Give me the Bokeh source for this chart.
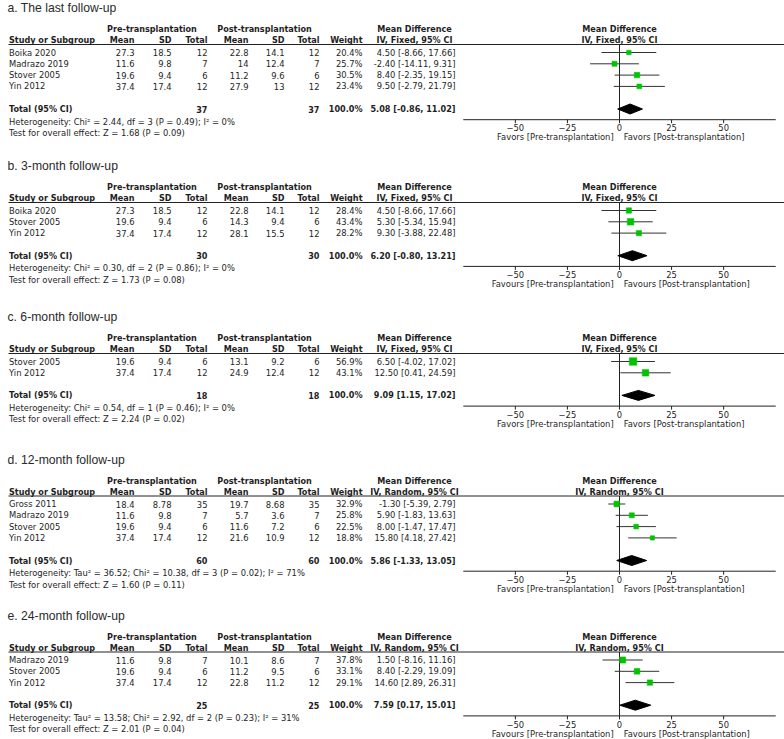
import math
from bokeh.plotting import figure
from bokeh.models import Range1d, ColumnDataSource
from bokeh.core.properties import value
from bokeh.embed import file_html
from bokeh.resources import INLINE

# ---------------- data ----------------
titles = ["a. The last follow-up", "b. 3-month follow-up", "c. 6-month follow-up",
          "d. 12-month follow-up", "e. 24-month follow-up"]
methods = ["IV, Fixed, 95% CI", "IV, Fixed, 95% CI", "IV, Fixed, 95% CI",
           "IV, Random, 95% CI", "IV, Random, 95% CI"]
favour_words = ["Favors", "Favours", "Favors", "Favors", "Favours"]

a_study = ["Boika 2020", "Madrazo 2019", "Stover 2005", "Yin 2012"]
a_pre_mean = [27.3, 11.6, 19.6, 37.4]
a_pre_sd = [18.5, 9.8, 9.4, 17.4]
a_pre_n = [12, 7, 6, 12]
a_post_mean = [22.8, 14, 11.2, 27.9]
a_post_sd = [14.1, 12.4, 9.6, 13]
a_post_n = [12, 7, 6, 12]
a_weight = [20.4, 25.7, 30.5, 23.4]
a_md = [4.50, -2.40, 8.40, 9.50]
a_lo = [-8.66, -14.11, -2.35, -2.79]
a_hi = [17.66, 9.31, 19.15, 21.79]

b_study = ["Boika 2020", "Stover 2005", "Yin 2012"]
b_pre_mean = [27.3, 19.6, 37.4]
b_pre_sd = [18.5, 9.4, 17.4]
b_pre_n = [12, 6, 12]
b_post_mean = [22.8, 14.3, 28.1]
b_post_sd = [14.1, 9.4, 15.5]
b_post_n = [12, 6, 12]
b_weight = [28.4, 43.4, 28.2]
b_md = [4.50, 5.30, 9.30]
b_lo = [-8.66, -5.34, -3.88]
b_hi = [17.66, 15.94, 22.48]

c_study = ["Stover 2005", "Yin 2012"]
c_pre_mean = [19.6, 37.4]
c_pre_sd = [9.4, 17.4]
c_pre_n = [6, 12]
c_post_mean = [13.1, 24.9]
c_post_sd = [9.2, 12.4]
c_post_n = [6, 12]
c_weight = [56.9, 43.1]
c_md = [6.50, 12.50]
c_lo = [-4.02, 0.41]
c_hi = [17.02, 24.59]

d_study = ["Gross 2011", "Madrazo 2019", "Stover 2005", "Yin 2012"]
d_pre_mean = [18.4, 11.6, 19.6, 37.4]
d_pre_sd = [8.78, 9.8, 9.4, 17.4]
d_pre_n = [35, 7, 6, 12]
d_post_mean = [19.7, 5.7, 11.6, 21.6]
d_post_sd = [8.68, 3.6, 7.2, 10.9]
d_post_n = [35, 7, 6, 12]
d_weight = [32.9, 25.8, 22.5, 18.8]
d_md = [-1.30, 5.90, 8.00, 15.80]
d_lo = [-5.39, -1.83, -1.47, 4.18]
d_hi = [2.79, 13.63, 17.47, 27.42]

e_study = ["Madrazo 2019", "Stover 2005", "Yin 2012"]
e_pre_mean = [11.6, 19.6, 37.4]
e_pre_sd = [9.8, 9.4, 17.4]
e_pre_n = [7, 6, 12]
e_post_mean = [10.1, 11.2, 22.8]
e_post_sd = [8.6, 9.5, 11.2]
e_post_n = [7, 6, 12]
e_weight = [37.8, 33.1, 29.1]
e_md = [1.50, 8.40, 14.60]
e_lo = [-8.16, -2.29, 2.89]
e_hi = [11.16, 19.09, 26.31]

total_md = [5.08, 6.20, 9.09, 5.86, 7.59]
total_lo = [-0.86, -0.80, 1.15, -1.33, 0.17]
total_hi = [11.02, 13.21, 17.02, 13.05, 15.01]

het_texts = [
    "Heterogeneity: Chi\u00b2 = 2.44, df = 3 (P = 0.49); I\u00b2 = 0%",
    "Heterogeneity: Chi\u00b2 = 0.30, df = 2 (P = 0.86); I\u00b2 = 0%",
    "Heterogeneity: Chi\u00b2 = 0.54, df = 1 (P = 0.46); I\u00b2 = 0%",
    "Heterogeneity: Tau\u00b2 = 36.52; Chi\u00b2 = 10.38, df = 3 (P = 0.02); I\u00b2 = 71%",
    "Heterogeneity: Tau\u00b2 = 13.58; Chi\u00b2 = 2.92, df = 2 (P = 0.23); I\u00b2 = 31%",
]
test_texts = [
    "Test for overall effect: Z = 1.68 (P = 0.09)",
    "Test for overall effect: Z = 1.73 (P = 0.08)",
    "Test for overall effect: Z = 2.24 (P = 0.02)",
    "Test for overall effect: Z = 1.60 (P = 0.11)",
    "Test for overall effect: Z = 2.01 (P = 0.04)",
]

tick_values = [-50, -25, 0, 25, 50]
tick_labels = ["\u221250", "\u221225", "0", "25", "50"]

panels = [
    (a_study, a_pre_mean, a_pre_sd, a_pre_n, a_post_mean, a_post_sd, a_post_n, a_weight, a_md, a_lo, a_hi),
    (b_study, b_pre_mean, b_pre_sd, b_pre_n, b_post_mean, b_post_sd, b_post_n, b_weight, b_md, b_lo, b_hi),
    (c_study, c_pre_mean, c_pre_sd, c_pre_n, c_post_mean, c_post_sd, c_post_n, c_weight, c_md, c_lo, c_hi),
    (d_study, d_pre_mean, d_pre_sd, d_pre_n, d_post_mean, d_post_sd, d_post_n, d_weight, d_md, d_lo, d_hi),
    (e_study, e_pre_mean, e_pre_sd, e_pre_n, e_post_mean, e_post_sd, e_post_n, e_weight, e_md, e_lo, e_hi),
]

# ---------------- layout / style ----------------
W, H = 784, 739
ZERO_PX = 619.0          # picture x of MD = 0
PPU = 2.083              # pixels per MD unit
AXIS_LIM = 75
panel_top = [7.5, 165.5, 316.5, 459.0, 615.0]
ROW = 11.3

FONT = "DejaVu Sans"
TFONT = "Liberation Sans"
FS = "8.4px"
BFS = "8.1px"
TFS = "12.2px"
TXT = "#1e1e1e"
LINE = "#222222"
GREEN = "#00c400"


def px(xpic):
    return (xpic - ZERO_PX) / PPU


col_name = px(8.5)
col_pre_mean = px(134)
col_pre_sd = px(171)
col_pre_n = px(207)
col_post_mean = px(248)
col_post_sd = px(284)
col_post_n = px(319)
col_weight = px(362)
col_md = px(455)
col_pre_hdr = px(151.5)
col_post_hdr = px(264)
col_md_hdr = px(414)

p = figure(width=W, height=H, x_range=Range1d(px(0), px(W)), y_range=Range1d(H, 0),
           output_backend="svg", toolbar_location=None, min_border=0,
           x_axis_type=None, y_axis_type=None)
p.grid.visible = False
p.outline_line_color = None
p.background_fill_color = "white"

groups = {}


def add_text(x, y, s, align="left", bold=False, size=None, font=FONT, color=TXT):
    if size is None:
        size = BFS if bold else FS
    key = (align, bold, size, font, color)
    g = groups.setdefault(key, {"x": [], "y": [], "text": []})
    g["x"].append(x)
    g["y"].append(y)
    g["text"].append(s)


seg = {"x0": [], "y0": [], "x1": [], "y1": []}
ci = {"x0": [], "y0": [], "x1": [], "y1": []}
sq = {"x": [], "y": [], "size": []}
dia = {"xs": [], "ys": []}


def add_seg(d, x0, y0, x1, y1):
    d["x0"].append(x0); d["y0"].append(y0); d["x1"].append(x1); d["y1"].append(y1)


def fmt(v):
    return f"{v:g}"


for k, pdat in enumerate(panels):
    study, pre_m, pre_sd, pre_n, post_m, post_sd, post_n, wt, md, lo, hi = pdat
    t = panel_top[k]
    add_text(px(7), t, titles[k], size=TFS, font=TFONT, color="#2a2a2a")
    h1 = t + 21
    h2 = t + 32
    hl = t + 36.5
    add_text(col_pre_hdr, h1, "Pre-transplantation", "center", True)
    add_text(col_post_hdr, h1, "Post-transplantation", "center", True)
    add_text(col_md_hdr, h1, "Mean Difference", "center", True)
    add_text(0, h1, "Mean Difference", "center", True)
    add_text(col_name, h2, "Study or Subgroup", "left", True)
    for c, lab in [(col_pre_mean, "Mean"), (col_pre_sd, "SD"), (col_pre_n, "Total"),
                   (col_post_mean, "Mean"), (col_post_sd, "SD"), (col_post_n, "Total"),
                   (col_weight, "Weight")]:
        add_text(c, h2, lab, "right", True)
    add_text(col_md_hdr, h2, methods[k], "center", True)
    add_text(0, h2, methods[k], "center", True)
    add_seg(seg, px(8), hl, px(W), hl)

    ys = [t + 44.5 + ROW * i for i in range(len(study))]
    for i, y in enumerate(ys):
        add_text(col_name, y, study[i])
        add_text(col_pre_mean, y, fmt(pre_m[i]), "right")
        add_text(col_pre_sd, y, fmt(pre_sd[i]), "right")
        add_text(col_pre_n, y, str(pre_n[i]), "right")
        add_text(col_post_mean, y, fmt(post_m[i]), "right")
        add_text(col_post_sd, y, fmt(post_sd[i]), "right")
        add_text(col_post_n, y, str(post_n[i]), "right")
        add_text(col_weight, y, f"{wt[i]:.1f}%", "right")
        add_text(col_md, y, f"{md[i]:.2f} [{lo[i]:.2f}, {hi[i]:.2f}]", "right")
        add_seg(ci, lo[i], y, hi[i], y)
        sq["x"].append(md[i]); sq["y"].append(y); sq["size"].append(math.sqrt(wt[i]))

    yt = ys[-1] + 2 * ROW
    add_text(col_name, yt, "Total (95% CI)", "left", True)
    add_text(col_pre_n, yt, str(sum(pre_n)), "right", True)
    add_text(col_post_n, yt, str(sum(post_n)), "right", True)
    add_text(col_weight, yt, f"{sum(wt):.1f}%", "right", True)
    add_text(col_md, yt, f"{total_md[k]:.2f} [{total_lo[k]:.2f}, {total_hi[k]:.2f}]", "right", True)
    add_text(col_name, yt + 12.5, het_texts[k])
    add_text(col_name, yt + 24, test_texts[k])

    dia["xs"].append([total_lo[k], total_md[k], total_hi[k], total_md[k]])
    dia["ys"].append([yt, yt - 5, yt, yt + 5])

    ya = yt + 10.7
    add_seg(seg, 0, hl, 0, ya)
    add_seg(seg, -AXIS_LIM, ya, AXIS_LIM, ya)
    for tv, tl in zip(tick_values, tick_labels):
        add_seg(seg, tv, ya, tv, ya + 3.5)
        add_text(tv, yt + 18.8, tl, "center")
    add_text(-2.8, yt + 28.3, f"{favour_words[k]} [Pre-transplantation]", "right")
    add_text(2.0, yt + 28.3, f"{favour_words[k]} [Post-transplantation]", "left")

p.segment(x0="x0", y0="y0", x1="x1", y1="y1", source=ColumnDataSource(seg),
          line_color=LINE, line_width=1)
p.segment(x0="x0", y0="y0", x1="x1", y1="y1", source=ColumnDataSource(ci),
          line_color="#333333", line_width=1)
p.scatter(x="x", y="y", size="size", marker="square", source=ColumnDataSource(sq),
          fill_color=GREEN, line_color=GREEN, line_width=0.5)
p.patches(xs="xs", ys="ys", source=ColumnDataSource(dia), fill_color="black", line_color="black")

for (align, bold, size, font, color), g in groups.items():
    p.text(x="x", y="y", text="text", source=ColumnDataSource(g),
           text_align=align, text_baseline="middle",
           text_font=value(font), text_font_size=value(size),
           text_font_style="bold" if bold else "normal", text_color=color)

open("out.html", "w").write(file_html(p, INLINE, title="Forest plots"))
